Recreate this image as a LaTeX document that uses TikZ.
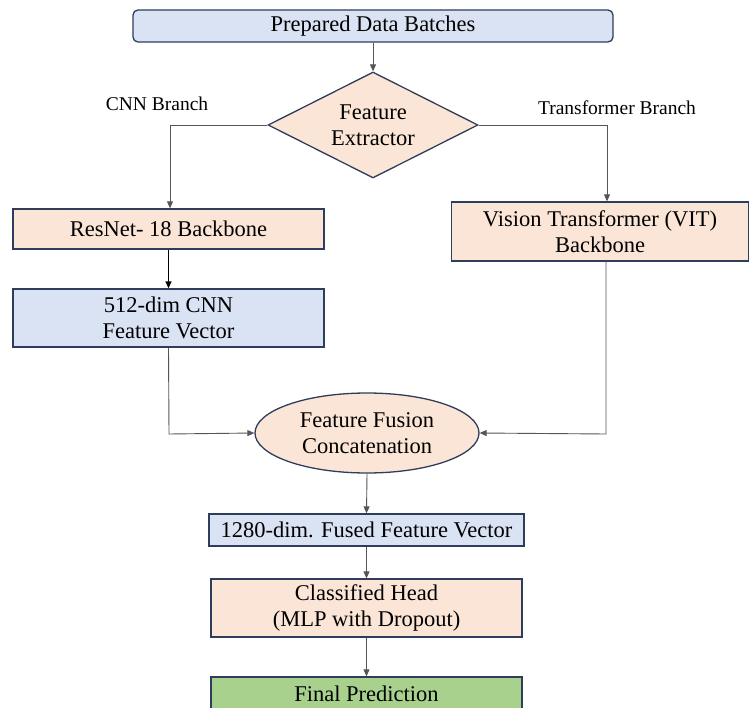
\documentclass[tikz,border=0pt]{standalone}
\usepackage{fontspec}
\setmainfont{Liberation Serif}[Ligatures=TeX]
\usetikzlibrary{shapes.geometric,arrows.meta}
\definecolor{peach}{HTML}{FBE5D6}
\definecolor{lblue}{HTML}{DAE3F3}
\definecolor{lgreen}{HTML}{A9D18E}
\definecolor{edge}{HTML}{2F3D5C}
\definecolor{conn}{HTML}{555555}
\tikzset{
  box/.style={draw=edge, line width=1.3pt, inner sep=0pt, align=center, font=\fontsize{22.5}{26.5}\selectfont},
  lbl/.style={font=\fontsize{19.5}{23}\selectfont, inner sep=0pt},
  arr/.style={draw=conn, line width=0.9pt, -{Triangle[length=7pt,width=6pt]}},
  arrk/.style={draw=black, line width=1.4pt, -{Triangle[length=7pt,width=6pt]}},
}
\begin{document}
\begin{tikzpicture}[x=1pt,y=-1pt]
\useasboundingbox (0,0) rectangle (749,708);
\fill[white] (0,0) rectangle (749,708);
\node[box, fill=lblue, rounded corners=5pt, minimum width=480pt, minimum height=32pt] (prep) at (373,26) {Prepared Data Batches};
\node[box, fill=peach, diamond, aspect=2, minimum width=210pt, minimum height=106pt, inner sep=0pt] (fe) at (373,125) {Feature\\Extractor};
\node[lbl] (cnnl) at (157,104) {CNN Branch};
\node[lbl] (trl) at (617,108) {Transformer Branch};
\node[box, fill=peach, minimum width=311pt, minimum height=40pt] (res) at (168.5,229) {ResNet- 18 Backbone};
\node[box, fill=lblue, minimum width=311pt, minimum height=58pt] (cnnv) at (168.5,318) {512-dim CNN\\Feature Vector};
\node[box, fill=peach, minimum width=297pt, minimum height=59pt] (vit) at (600,231.5) {Vision Transformer (VIT)\\Backbone};
\node[box, fill=peach, ellipse, minimum width=224pt, minimum height=80pt, inner sep=0pt] (fus) at (367,433) {Feature Fusion\\Concatenation};
\node[box, fill=lblue, minimum width=315pt, minimum height=32pt] (fv) at (366.5,530) {1280-dim. Fused Feature Vector};
\node[box, fill=peach, minimum width=311pt, minimum height=58pt] (head) at (366.5,608) {Classified Head\\(MLP with Dropout)};
\node[box, fill=lgreen, minimum width=311pt, minimum height=34pt] (fin) at (366.5,694) {Final Prediction};
\coordinate (c1) at (170,125);
\coordinate (c2) at (607,125);
\coordinate (c3) at (169,434);
\coordinate (c4) at (606,434);
\draw[arr] (prep.south) -- (fe.north);
\draw[arr] (fe.west) -- (c1) -- (res.north -| c1);
\draw[arr] (fe.east) -- (c2) -- (vit.north -| c2);
\draw[arrk] (res.south) -- (cnnv.north);
\draw[arr] (cnnv.south) -- (c3) -- (fus.west);
\draw[arr] (vit.south -| c4) -- (c4) -- (fus.east);
\draw[arr] (fus.south) -- (fv.north);
\draw[arr] (fv.south) -- (head.north);
\draw[arr] (head.south) -- (fin.north);
\end{tikzpicture}
\end{document}
